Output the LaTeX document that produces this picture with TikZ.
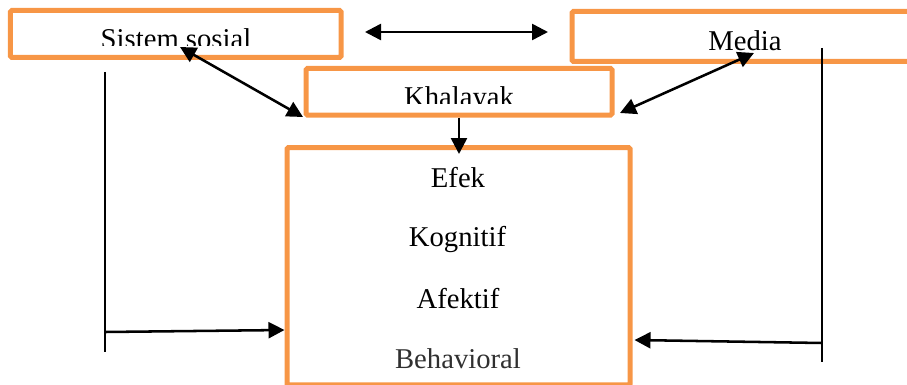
\documentclass[tikz,border=0pt]{standalone}
\usepackage{fontspec}
\setmainfont{Liberation Serif}
\usetikzlibrary{arrows.meta,calc}
\definecolor{boxorange}{HTML}{F79646}
\definecolor{textgray}{HTML}{303030}

\begin{document}
\begin{tikzpicture}[x=0.75pt,y=0.75pt,yscale=-1,xscale=1,
    box/.style={draw=boxorange,line width=3.75pt,rounded corners=1pt,inner sep=0pt},
    label/.style={anchor=base,inner sep=0pt,font=\fontsize{21.5}{24}\selectfont},
    link/.style={line width=1.9pt,-{Triangle[length=12pt,width=12pt]}},
    twolink/.style={line width=1.9pt,{Triangle[length=12pt,width=12pt]}-{Triangle[length=12pt,width=12pt]}},
    rail/.style={line width=1.1pt}]
    \useasboundingbox (0,0) rectangle (907,385);

    % Boxes
    \node [box,minimum width=247.9pt,minimum height=35.25pt] (sistem) at (175.75,34) {};
    \node [box,minimum width=257.25pt,minimum height=37.5pt] (media) at (743.5,36.5) {};
    \node [box,minimum width=229.5pt,minimum height=34.9pt] (khalayak) at (459,91.75) {};
    \node [box,minimum width=257.25pt,minimum height=178.1pt] (efek) at (458.5,266.25) {};

    % Text Node
    \begin{scope}
        \clip (0,0) rectangle (907,45.5);
        \node [label] (sistemtext) at (176,49) {Sistem sosial};
    \end{scope}
    % Text Node
    \node [label] (mediatext) at (745,51) {Media};
    % Text Node
    \begin{scope}
        \clip (300,60) rectangle (620,103.5);
        \node [label] (khalayaktext) at (459,107) {Khalayak};
    \end{scope}
    % Text Node
    \node [label] (efektext) at (458,187) {Efek};
    % Text Node
    \node [label] (kognitif) at (457.5,246) {Kognitif};
    % Text Node
    \node [label] (afektif) at (458,308) {Afektif};
    % Text Node
    \node [label,text=textgray] (behavioral) at (458,368) {Behavioral};

    % Free ends
    \coordinate (topleft) at (365,32);
    \coordinate (topright) at (548,32);
    \coordinate (sistemtip) at (180,47);
    \coordinate (khalayakleft) at (303,117);
    \coordinate (mediatip) at (754,53);
    \coordinate (khalayakright) at (620,113);
    \coordinate (railLtop) at (105,72);
    \coordinate (railLbot) at (105,352);
    \coordinate (railLjoin) at (105,332);
    \coordinate (railRtop) at (822,48);
    \coordinate (railRbot) at (822,362);
    \coordinate (railRjoin) at (822,343);

    % Straight Lines
    \draw [twolink] (topleft) -- (topright);
    \draw [twolink] (sistemtip) -- (khalayakleft);
    \draw [twolink] (mediatip) -- (khalayakright);
    \draw [link] (khalayak.south) -- ($(khalayak.south |- efek.north)+(0,9)$);

    % Side rails
    \draw [rail] (railLtop) -- (railLbot);
    \draw [link] (railLjoin) -- ($(efek.west)+(0,63.75)$);
    \draw [rail] (railRtop) -- (railRbot);
    \draw [link] (railRjoin) -- ($(efek.east)+(2,73.75)$);
\end{tikzpicture}
\end{document}
